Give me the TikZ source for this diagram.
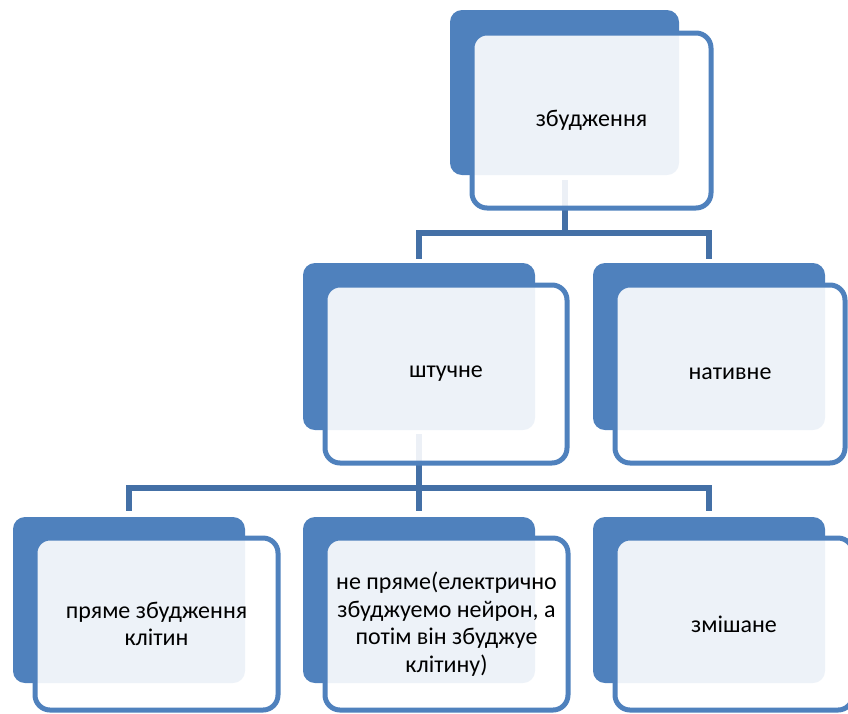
\documentclass[tikz,border=0pt]{standalone}
\usepackage{fontspec}
\setmainfont{Carlito}
\usetikzlibrary{calc}
\definecolor{boxblue}{RGB}{79,129,189}
\definecolor{linkblue}{RGB}{68,112,166}
\tikzset{
  backbox/.style={rectangle, rounded corners=12pt, fill=boxblue, draw=none},
  frontbox/.style={rectangle, rounded corners=15pt, draw=boxblue, line width=5pt,
    fill=white, fill opacity=0.9, draw opacity=1, text opacity=1,
    align=center, inner sep=4pt, font=\fontsize{24}{27.5}\selectfont},
  link/.style={draw=linkblue, line width=6pt, line cap=rect, line join=miter}
}
\begin{document}
\begin{tikzpicture}[x=1pt,y=-1pt]
\useasboundingbox (0,0) rectangle (848,713);
\clip (0,0) rectangle (848,713);

% back plates
\node[backbox, minimum width=229, minimum height=165] (topB) at (564.5,92.5) {};
\node[backbox, minimum width=232, minimum height=167] (artB) at (419,346.5) {};
\node[backbox, minimum width=232, minimum height=167] (natB) at (709,346.5) {};
\node[backbox, minimum width=232, minimum height=166] (dirB) at (129,600) {};
\node[backbox, minimum width=232, minimum height=166] (indB) at (419,600) {};
\node[backbox, minimum width=232, minimum height=166] (mixB) at (709,600) {};

% connectors
\draw[link] ($(topB.south)+(0,8)$) -- ($(topB.south)+(0,58)$) coordinate (j1);
\draw[link] (j1) -| ($(artB.north)+(0,-7)$);
\draw[link] (j1) -| ($(natB.north)+(0,-7)$);
\draw[link] ($(artB.south)+(0,7)$) -- ($(artB.south)+(0,58)$) coordinate (j2);
\draw[link] (j2) -| ($(dirB.north)+(0,-9)$);
\draw[link] (j2) -- ($(indB.north)+(0,-9)$);
\draw[link] (j2) -| ($(mixB.north)+(0,-9)$);

% front cards with labels
\node[frontbox, minimum width=239, minimum height=175] (top) at (591.5,120.5) {збудження};
\node[frontbox, minimum width=242, minimum height=178] (art) at (446,374) {штучне};
\node[frontbox, minimum width=230, minimum height=178] (nat) at (730,374) {нативне};
\node[frontbox, minimum width=243, minimum height=172] (dir) at (156.5,624) {пряме збудження\\клітин};
\node[frontbox, minimum width=243, minimum height=172] (ind) at (446.5,624) {не пряме(електрично\\збуджуемо нейрон, а\\потім він збуджуе\\клітину)};
\node[frontbox, minimum width=238, minimum height=172] (mix) at (734,624) {змішане};
\end{tikzpicture}
\end{document}
